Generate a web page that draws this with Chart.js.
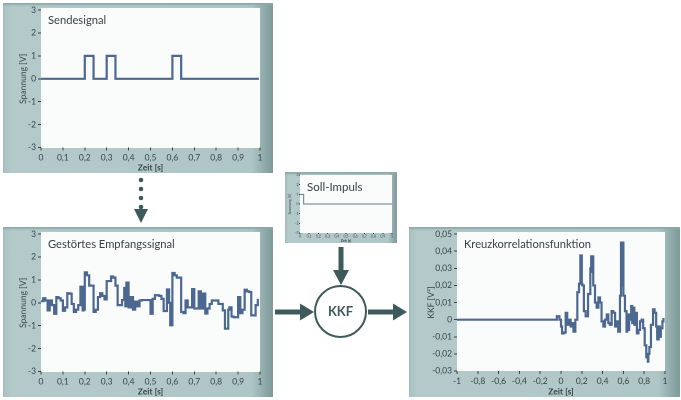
<!DOCTYPE html>
<html><head><meta charset="utf-8">
<script src="https://cdn.jsdelivr.net/npm/chart.js@4"></script>
<style>
html,body{margin:0;padding:0;background:#fff;width:681px;height:400px;overflow:hidden;font-family:Lato,sans-serif}
.panel{position:absolute;background:linear-gradient(90deg,#a9c1c1 0,#b4caca 3%,#afc6c6 92%,#8fa9a9 97%,#7d9898 100%);box-shadow:inset 0 2px 2px #8fa9a9}
.panel canvas{position:absolute;left:0;top:0}
.plotbg{position:absolute;background:#fafcfc}
.lbl{position:absolute;color:#36444a;white-space:nowrap}
svg{position:absolute;left:0;top:0}
</style></head><body>
<svg width="681" height="400" viewBox="0 0 681 400" style="z-index:5">
<g fill="#3f5a5a">
<circle cx="141" cy="180" r="2.3"/><circle cx="141" cy="189" r="2.3"/><circle cx="141" cy="198" r="2.3"/><circle cx="141" cy="207" r="2.3"/>
<path d="M134 209h14l-7 14z"/>
<rect x="338.5" y="247" width="5" height="24"/><path d="M333 270h16l-8 15z"/>
<rect x="275" y="309.5" width="26" height="5"/><path d="M300 303.500l14 8.500-14 8.500z"/>
<rect x="368" y="309.500" width="26" height="5"/><path d="M393 303.500l14 8.500-14 8.500z"/>
</g>
<circle cx="340.500" cy="311.500" r="25.500" fill="#fff" stroke="#3f5a5a" stroke-width="2"/>
<text x="340.500" y="316" text-anchor="middle" font-family="Lato" font-weight="700" font-size="13" fill="#3f5a5a">KKF</text>
</svg>

<script>
// Data
const sendTimes = [0, 0.2, 0.24, 0.3, 0.34, 0.6, 0.64, 0.995];
const sendValues = [0, 1, 0, 1, 0, 1, 0, 0];

const impulseTimes = [0, 0.04, 1];
const impulseValues = [1, 0, 0];

const recvValues = [
 .07,.2,.1,-.33,.1,-.1,-.48,.25,.2,.1,
 -.35,-.2,.42,.4,-.05,-.4,-.3,-.1,.7,-.33,
 -.3,1.33,1.2,.75,.75,-.4,-.3,.25,.42,.3,
 .15,.95,.95,1.15,1.1,.75,-.1,-.1,.12,.65,
 -.15,.88,-.2,.25,-.3,.05,-.15,.1,.12,.12,
 -.48,.17,.33,.3,.17,-.36,-.36,.58,0,-.98,
 1.3,1.2,1.1,1.1,-.4,-.45,.1,-.2,-.2,.6,
 -.25,-.25,.5,-.25,.4,-.47,-.25,-.05,.1,.1,
 .1,-.05,-.05,-.33,-1.13,-.3,-.2,-.6,-.63,-.63,
 .25,-.45,-.3,.57,.5,.47,-.55,-.55,-.1,.17];
const recvTimes = [
 0,.01,.02,.03,.04,.05,.06,.07,.08,.09,
 .1,.11,.12,.13,.14,.15,.16,.17,.18,.19,
 .195,.2,.21,.22,.23,.24,.25,.26,.27,.28,
 .29,.3,.31,.32,.33,.34,.35,.36,.37,.38,
 .385,.39,.4,.41,.42,.43,.44,.45,.46,.48,
 .5,.51,.52,.54,.55,.56,.57,.575,.585,.59,
 .6,.61,.62,.63,.64,.65,.66,.67,.68,.69,
 .7,.71,.72,.73,.74,.75,.76,.77,.78,.79,
 .8,.81,.82,.83,.84,.855,.86,.87,.88,.89,
 .9,.91,.92,.93,.94,.95,.96,.97,.98,.99];

const kkfTimes = [-1,-.04,-.015,0,.01,.03,.045,.06,.077,.093,.105,.12,.138,.157,.173,.186,.19,.195,.2,.205,.22,.237,.26,.282,.29,.295,.298,.31,.327,.343,.36,.375,.39,.407,.423,.44,.455,.47,.487,.503,.52,.535,.55,.567,.577,.583,.59,.6,.615,.63,.637,.645,.655,.665,.675,.685,.695,.705,.715,.73,.745,.76,.775,.79,.805,.82,.835,.84,.85,.865,.885,.9,.915,.925,.94,.95,.96,.975,.985];
const kkfValues = [0,.002,0,-.004,-.008,-.0075,.004,-.003,0,-.004,-.002,-.007,0,.016,.021,.0375,.022,.0375,.021,.02,.005,.002,.015,.03,.037,.028,.037,.02,.01,.007,.013,.01,-.001,-.004,0,.003,-.002,-.003,.005,.004,-.004,-.001,-.007,.014,.045,.02,.045,.014,.005,-.007,.003,-.006,.003,0,.008,-.002,.007,-.003,.004,-.008,-.006,-.001,0,-.005,-.015,-.022,-.0245,-.02,-.016,-.003,.006,.004,-.004,-.0115,-.004,-.01,-.005,-.001,.001];

const unitTicks = [0,.1,.2,.3,.4,.5,.6,.7,.8,.9,1];
const kkfTicks = [-1,-.8,-.6,-.4,-.2,0,.2,.4,.6,.8,1];
const voltTicks = [-3,-2,-1,0,1,2,3];
const kkfYTicks = [-.03,-.02,-.01,0,.01,.02,.03,.04,.05];

const TEXT = '#36444a', LINE = '#4d6890';
const comma = v => String(+(+v).toFixed(2)).replace('.', ',');

function panel(p){
  const d = document.createElement('div');
  d.className = 'panel';
  d.style.cssText = `left:${p.L}px;top:${p.T}px;width:${p.R-p.L}px;height:${p.B-p.T}px`;
  const bg = document.createElement('div');
  bg.className = 'plotbg';
  bg.style.cssText = `left:${p.l-p.L}px;top:${p.t-p.T}px;width:${p.r-p.l}px;height:${p.b-p.t}px`;
  d.appendChild(bg);
  const c = document.createElement('canvas');
  c.width = p.R-p.L; c.height = p.B-p.T;
  d.appendChild(c);
  document.body.appendChild(d);
  const lab = document.createElement('div');
  lab.className = 'lbl';
  lab.textContent = p.label;
  lab.style.cssText = `left:${p.lx}px;top:${p.ly}px;font-size:${p.lfs}px`;
  document.body.appendChild(lab);
  const fs = p.fs;
  new Chart(c, {
    type: 'line',
    data: { datasets: [{ data: p.xs.map((x,i)=>({x, y:p.ys[i]})), stepped: 'before', borderColor: p.color||LINE, borderWidth: p.lw, pointRadius: 0, fill:false, borderJoinStyle:'miter', clip:false }] },
    options: {
      responsive:false, animation:false, devicePixelRatio:2,
      parsing:false, normalized:true,
      layout:{ padding:{ top:p.t-p.T, right:p.R-p.r, left:0, bottom:0 } },
      plugins:{ legend:{display:false}, tooltip:{enabled:false} },
      scales:{
        x:{ type:'linear', min:p.xmin, max:p.xmax,
            afterBuildTicks:a=>{a.ticks=p.xticks.map(value=>({value}))},
            afterFit:a=>{a.height=p.B-p.b},
            grid:{drawOnChartArea:false, tickLength:p.tl, color:TEXT}, border:{display:false},
            ticks:{ color:TEXT, font:{size:fs,family:'Lato'}, padding:p.tp, maxRotation:0, autoSkip:false, callback:comma },
            title:{ display:true, text:'Zeit [s]', color:TEXT, font:{size:fs,family:'Lato',weight:'700'}, padding:{top:0,bottom:p.xtb} } },
        y:{ type:'linear', min:p.ymin, max:p.ymax,
            afterBuildTicks:a=>{a.ticks=p.yticks.map(value=>({value}))},
            afterFit:a=>{a.width=p.l-p.L},
            grid:{drawOnChartArea:false, tickLength:p.tl, color:TEXT}, border:{display:false},
            ticks:{ color:TEXT, font:{size:fs,family:'Lato'}, padding:p.tp, autoSkip:false, callback:comma },
            title:{ display:true, text:p.ytitle, color:TEXT, font:{size:fs,family:'Lato'}, padding:{top:p.ytp,bottom:0} } }
      }
    }
  });
}

const defs = [
 {L:3,R:273,T:3,B:173,l:41,r:260,t:8,b:147.500,label:'Sendesignal',lx:48,ly:13,lfs:11.200,
  xs:sendTimes,ys:sendValues,xmin:0,xmax:1,ymin:-3,ymax:3,xticks:unitTicks,yticks:voltTicks,ytitle:'Spannung [V]',fs:8.500,lw:2.200,tl:3,tp:2,xtb:0,ytp:15},
 {L:3,R:273,T:227,B:397,l:41,r:260,t:232,b:371.500,label:'Gestörtes Empfangssignal',lx:48,ly:237,lfs:11.200,
  xs:recvTimes,ys:recvValues,xmin:0,xmax:1,ymin:-3,ymax:3,xticks:unitTicks,yticks:voltTicks,ytitle:'Spannung [V]',fs:8.500,lw:2.200,tl:3,tp:2,xtb:0,ytp:15},
 {L:409,R:680,T:227,B:397,l:457,r:665,t:232,b:371,label:'Kreuzkorrelationsfunktion',lx:464,ly:237,lfs:11.100,
  xs:kkfTimes,ys:kkfValues,xmin:-1,xmax:1,ymin:-.03,ymax:.05,xticks:kkfTicks,yticks:kkfYTicks,ytitle:'KKF [V²]',fs:8.500,lw:2.200,tl:3,tp:2,xtb:0,ytp:17},
 {L:285,R:397,T:172,B:243,l:300,r:392,t:175,b:233,label:'Soll-Impuls',lx:307,ly:180,lfs:11.500,
  xs:impulseTimes,ys:impulseValues,xmin:0,xmax:1,ymin:-3,ymax:3,xticks:unitTicks,yticks:voltTicks,ytitle:'Spannung [V]',fs:3.500,lw:1,tl:1,tp:.5,xtb:0,ytp:3,color:'#5f7a90'}
];
defs.forEach(panel);
</script>
</body></html>
